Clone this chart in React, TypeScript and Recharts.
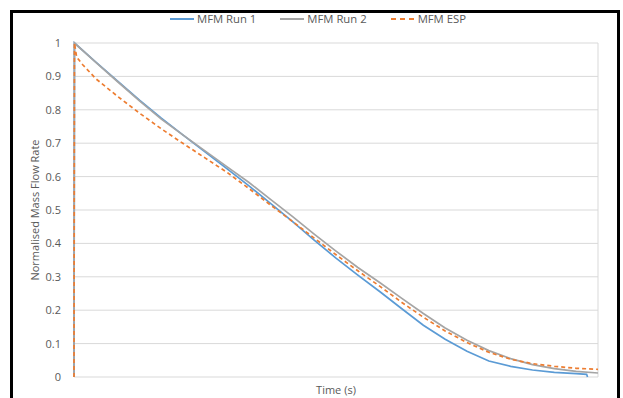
import React from "react";
import { LineChart, Line, XAxis, YAxis, CartesianGrid } from "recharts";

// Normalised mass flow rate vs time for two MFM runs and the ESP prediction
const run1Time = [0, 0.005, 0.25, 0.5, 0.75, 1, 1.25, 1.5, 1.75, 2, 2.25, 2.5, 2.75, 3, 3.25, 3.5, 3.75, 4, 4.25, 4.5, 4.75, 5, 5.25, 5.5, 5.75, 5.87, 5.88];
const run1Flow = [0, 1, 0.943, 0.886, 0.829, 0.775, 0.724, 0.674, 0.624, 0.573, 0.52, 0.466, 0.41, 0.356, 0.305, 0.256, 0.205, 0.155, 0.113, 0.077, 0.048, 0.032, 0.021, 0.014, 0.01, 0.008, 0];

const run2Time = [0, 0.005, 0.25, 0.5, 0.75, 1, 1.25, 1.5, 1.75, 2, 2.25, 2.5, 2.75, 3, 3.25, 3.5, 3.75, 4, 4.25, 4.5, 4.75, 5, 5.25, 5.5, 5.75, 6];
const run2Flow = [0, 1, 0.942, 0.884, 0.827, 0.772, 0.724, 0.677, 0.63, 0.583, 0.532, 0.481, 0.428, 0.377, 0.328, 0.283, 0.236, 0.19, 0.147, 0.11, 0.079, 0.055, 0.037, 0.025, 0.017, 0.012];

const espTime = [0, 0.005, 0.03, 0.1, 0.25, 0.5, 0.75, 1, 1.25, 1.5, 1.75, 2, 2.25, 2.5, 2.75, 3, 3.25, 3.5, 3.75, 4, 4.25, 4.5, 4.75, 5, 5.25, 5.5, 5.75, 6];
const espFlow = [0, 1, 0.958, 0.935, 0.893, 0.84, 0.79, 0.743, 0.699, 0.656, 0.613, 0.565, 0.515, 0.466, 0.416, 0.366, 0.318, 0.272, 0.224, 0.179, 0.138, 0.103, 0.074, 0.053, 0.04, 0.032, 0.026, 0.023];

const xTicks = [0, 1, 2, 3, 4, 5, 6];
const yTicks = [0, 0.1, 0.2, 0.3, 0.4, 0.5, 0.6, 0.7, 0.8, 0.9, 1];

const toPoints = (t: number[], v: number[]) => t.map((x, i) => ({ t: x, v: v[i] }));

const series = [
  { name: "MFM Run 1", color: "#5B9BD5", dash: undefined as string | undefined, data: toPoints(run1Time, run1Flow) },
  { name: "MFM Run 2", color: "#A5A5A5", dash: undefined as string | undefined, data: toPoints(run2Time, run2Flow) },
  { name: "MFM ESP", color: "#ED7D31", dash: "4 3", data: toPoints(espTime, espFlow) },
];

const FONT = "'Open Sans', sans-serif";
const TEXT = "#595959";

function LegendRow() {
  return (
    <div
      style={{
        position: "absolute",
        top: 11,
        left: 0,
        width: 636,
        display: "flex",
        justifyContent: "center",
        gap: 24,
        fontFamily: FONT,
        fontSize: 11.3,
        color: TEXT,
      }}
    >
      {series.map((s) => (
        <div key={s.name} style={{ display: "flex", alignItems: "center", gap: 3 }}>
          <svg width={24} height={6}>
            <line x1={0} y1={3} x2={24} y2={3} stroke={s.color} strokeWidth={2} strokeDasharray={s.dash ? "5 4" : undefined} />
          </svg>
          <span>{s.name}</span>
        </div>
      ))}
    </div>
  );
}

export default function App() {
  return (
    <div style={{ position: "absolute", left: 0, top: 0, width: 623, height: 398, overflow: "hidden", background: "#fff" }}>
      <div style={{ position: "absolute", left: 10, top: 10, width: 604, height: 420, border: "3px solid #000" }} />
      <LineChart width={623} height={398} margin={{ top: 43, right: 25, bottom: 0, left: 24 }}>
        <CartesianGrid stroke="#D9D9D9" strokeWidth={1} />
        <XAxis
          type="number"
          dataKey="t"
          domain={[0, 6]}
          ticks={xTicks}
          tick={false}
          axisLine={false}
          tickLine={false}
          height={21}
          label={{ value: "Time (s)", position: "insideBottom", offset: 4, fill: TEXT, fontSize: 11, fontFamily: FONT }}
        />
        <YAxis
          type="number"
          domain={[0, 1]}
          ticks={yTicks}
          width={50}
          axisLine={false}
          tickLine={false}
          tickMargin={7}
          tick={{ fill: TEXT, fontSize: 11, fontFamily: FONT }}
          label={{
            value: "Normalised Mass Flow Rate",
            angle: -90,
            position: "insideLeft",
            offset: 11,
            fill: TEXT,
            fontSize: 11,
            fontFamily: FONT,
            style: { textAnchor: "middle" },
          }}
        />
        {series.map((s) => (
          <Line
            key={s.name}
            data={s.data}
            dataKey="v"
            name={s.name}
            type="linear"
            stroke={s.color}
            strokeWidth={1.7}
            strokeDasharray={s.dash}
            dot={false}
            isAnimationActive={false}
          />
        ))}
      </LineChart>
      <LegendRow />
    </div>
  );
}
